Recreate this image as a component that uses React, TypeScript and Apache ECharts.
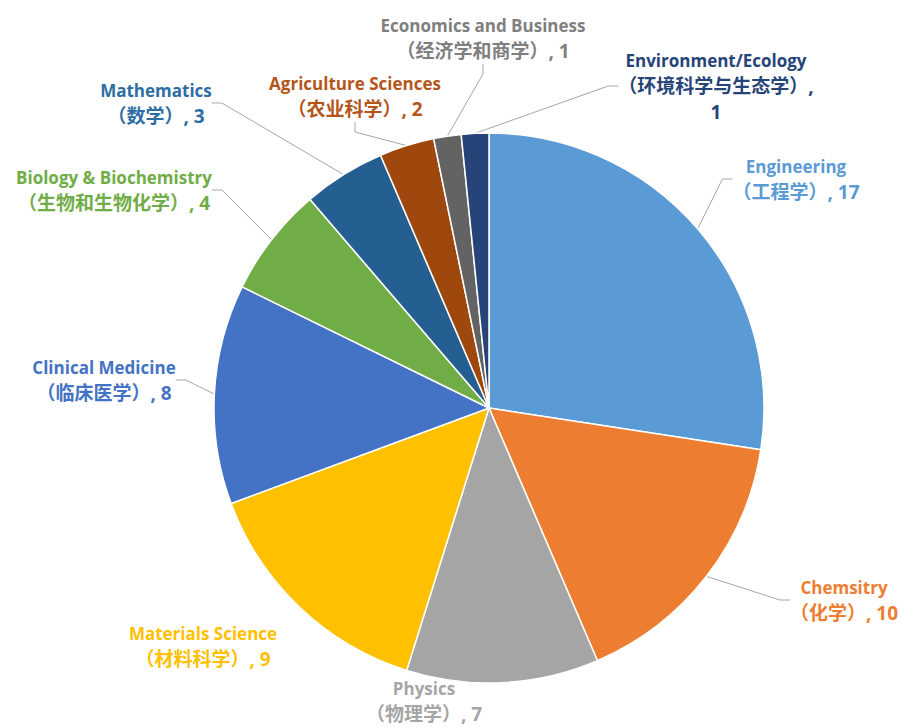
import React, { useEffect, useRef } from 'react';
import * as echarts from 'echarts';

const categories = [
  'Engineering',
  'Chemsitry',
  'Physics',
  'Materials Science',
  'Clinical Medicine',
  'Biology & Biochemistry',
  'Mathematics',
  'Agriculture Sciences',
  'Economics and Business',
  'Environment/Ecology',
];
const cnNames = ['工程学', '化学', '物理学', '材料科学', '临床医学', '生物和生物化学', '数学', '农业科学', '经济学和商学', '环境科学与生态学'];
const values = [17, 10, 7, 9, 8, 4, 3, 2, 1, 1];

const sliceColors = ['#5B9BD5', '#ED7D31', '#A5A5A5', '#FFC000', '#4472C4', '#70AD47', '#255E91', '#9E480E', '#636363', '#264478'];
const labelColors = ['#5B9BD5', '#ED7D31', '#A5A5A5', '#FFC000', '#4472C4', '#70AD47', '#2E6DA4', '#B4561A', '#7F7F7F', '#264478'];
// label block centres (layout)
const labelPos: [number, number][] = [
  [796, 179],
  [844, 600],
  [424, 701],
  [203, 646],
  [104, 380],
  [114, 190],
  [156, 103],
  [355, 96],
  [483, 38],
  [716, 86],
];
const wrapValue = [false, false, false, false, false, false, false, false, false, true];
const hideLine = [false, false, true, true, false, false, false, false, false, false];

export default function App() {
  const ref = useRef<HTMLDivElement>(null);
  useEffect(() => {
    if (!ref.current) return;
    const chart = echarts.init(ref.current, undefined, { renderer: 'svg' });
    const data = categories.map((name, i) => ({
      name,
      value: values[i],
      itemStyle: { color: sliceColors[i] },
      label: { color: labelColors[i] },
      labelLine: { show: !hideLine[i] },
    }));
    chart.setOption({
      animation: false,
      backgroundColor: '#ffffff',
      series: [
        {
          type: 'pie',
          center: [489, 408],
          radius: 275,
          startAngle: 90,
          clockwise: true,
          avoidLabelOverlap: false,
          itemStyle: { borderColor: '#ffffff', borderWidth: 1.5 },
          label: {
            show: true,
            position: 'outside',
            fontFamily: '"Open Sans", "Noto Sans CJK SC", sans-serif',
            fontWeight: 'bold',
            fontSize: 17,
            lineHeight: 26,
            align: 'center',
            formatter: (p: any) => {
              const i = p.dataIndex;
              const tail = wrapValue[i] ? `{b|（${cnNames[i]}）,}\n{b|${values[i]}}` : `{b|（${cnNames[i]}）, ${values[i]}}`;
              return `{a|${categories[i]}}\n${tail}`;
            },
            rich: {
              a: {
                fontFamily: '"Open Sans", "Noto Sans CJK SC", sans-serif',
                fontWeight: 'bold',
                fontSize: 17,
                lineHeight: 26,
              },
              b: {
                fontFamily: '"Open Sans", "Noto Sans CJK SC", sans-serif',
                fontWeight: 'bold',
                fontSize: 19,
                lineHeight: 26,
              },
            },
          },
          labelLine: {
            show: true,
            length: 10,
            length2: 10,
            lineStyle: { color: '#A6A6A6', width: 1 },
          },
          labelLayout: (params: any) => {
            const i = params.dataIndex;
            return {
              x: labelPos[i][0],
              y: labelPos[i][1],
              align: 'center',
              verticalAlign: 'middle',
            };
          },
          data,
        },
      ],
    });
    return () => chart.dispose();
  }, []);
  return (
    <div
      ref={ref}
      style={{ position: 'fixed', left: 0, top: 0, width: 901, height: 728 }}
    />
  );
}
